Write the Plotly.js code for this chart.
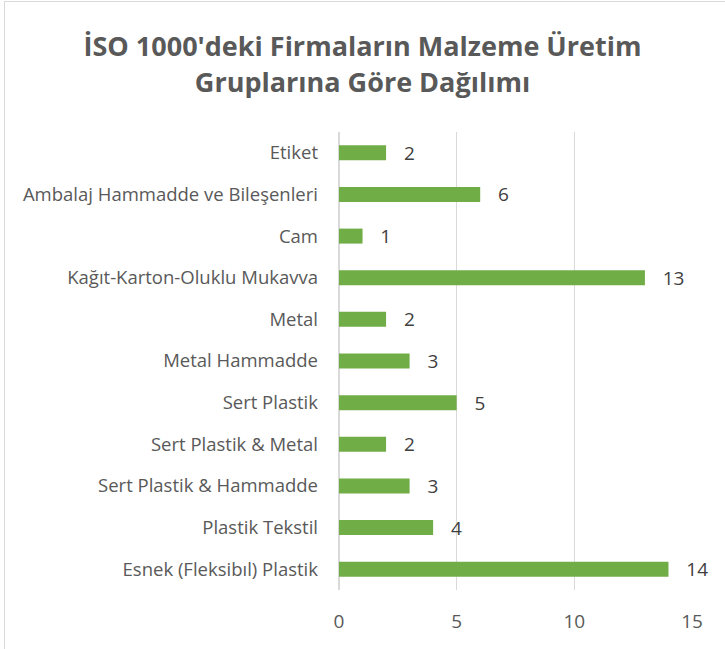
<!DOCTYPE html>
<html><head><meta charset="utf-8">
<script src="https://cdn.plot.ly/plotly-3.0.1.min.js"></script>
<style>
html,body{margin:0;padding:0;background:#fff;}
#wrap{position:relative;width:725px;height:649px;overflow:hidden;}
#chart{position:absolute;left:0;top:0;width:725px;height:649px;}
#border{position:absolute;left:4px;top:1px;width:760px;height:700px;border:1.5px solid #d9d9d9;pointer-events:none;box-sizing:border-box;}
</style></head>
<body><div id="wrap"><div id="chart"></div><div id="border"></div></div>
<script>
const categories = ["Etiket","Ambalaj Hammadde ve Bileşenleri","Cam","Kağıt-Karton-Oluklu Mukavva","Metal","Metal Hammadde","Sert Plastik","Sert Plastik & Metal","Sert Plastik & Hammadde","Plastik Tekstil","Esnek (Fleksibıl) Plastik"];
const values = [2,6,1,13,2,3,5,2,3,4,14];
const xTicks = [0,5,10,15];
const titleText = "İSO 1000'deki Firmaların Malzeme Üretim<br>Gruplarına Göre Dağılımı";

const font = "Open Sans, Calibri, sans-serif";
Plotly.newPlot('chart', [{
  type:'bar', orientation:'h',
  y: categories, x: values,
  marker:{color:'#70ad47'},
  texttemplate:'   %{x}', textposition:'outside', cliponaxis:false, constraintext:'none',
  textfont:{family:font, size:19, color:'#404040'},
  hoverinfo:'skip'
}], {
  width:725, height:649,
  margin:{l:339, r:33, t:132, b:59},
  paper_bgcolor:'rgba(0,0,0,0)', plot_bgcolor:'rgba(0,0,0,0)',
  title:{text:titleText, x:0.5, xref:'container', xanchor:'center', y:0.913, yref:'container', yanchor:'middle',
    font:{family:font, size:27, color:'#595959', weight:'bold'}},
  bargap:0.64,
  showlegend:false,
  xaxis:{range:[0,15], tickvals:xTicks, showgrid:true, gridcolor:'#d9d9d9', gridwidth:1.5,
    zeroline:true, zerolinecolor:'#d9d9d9', zerolinewidth:1.5, showline:false, ticks:'',
    tickfont:{family:font, size:19, color:'#595959'}, ticklabelstandoff:18, fixedrange:true},
  yaxis:{autorange:'reversed', showgrid:false, zeroline:false, showline:false, ticks:'',
    tickfont:{family:font, size:18.5, color:'#595959'}, ticklabelstandoff:20, fixedrange:true}
}, {displayModeBar:false, staticPlot:true});
</script></body></html>
